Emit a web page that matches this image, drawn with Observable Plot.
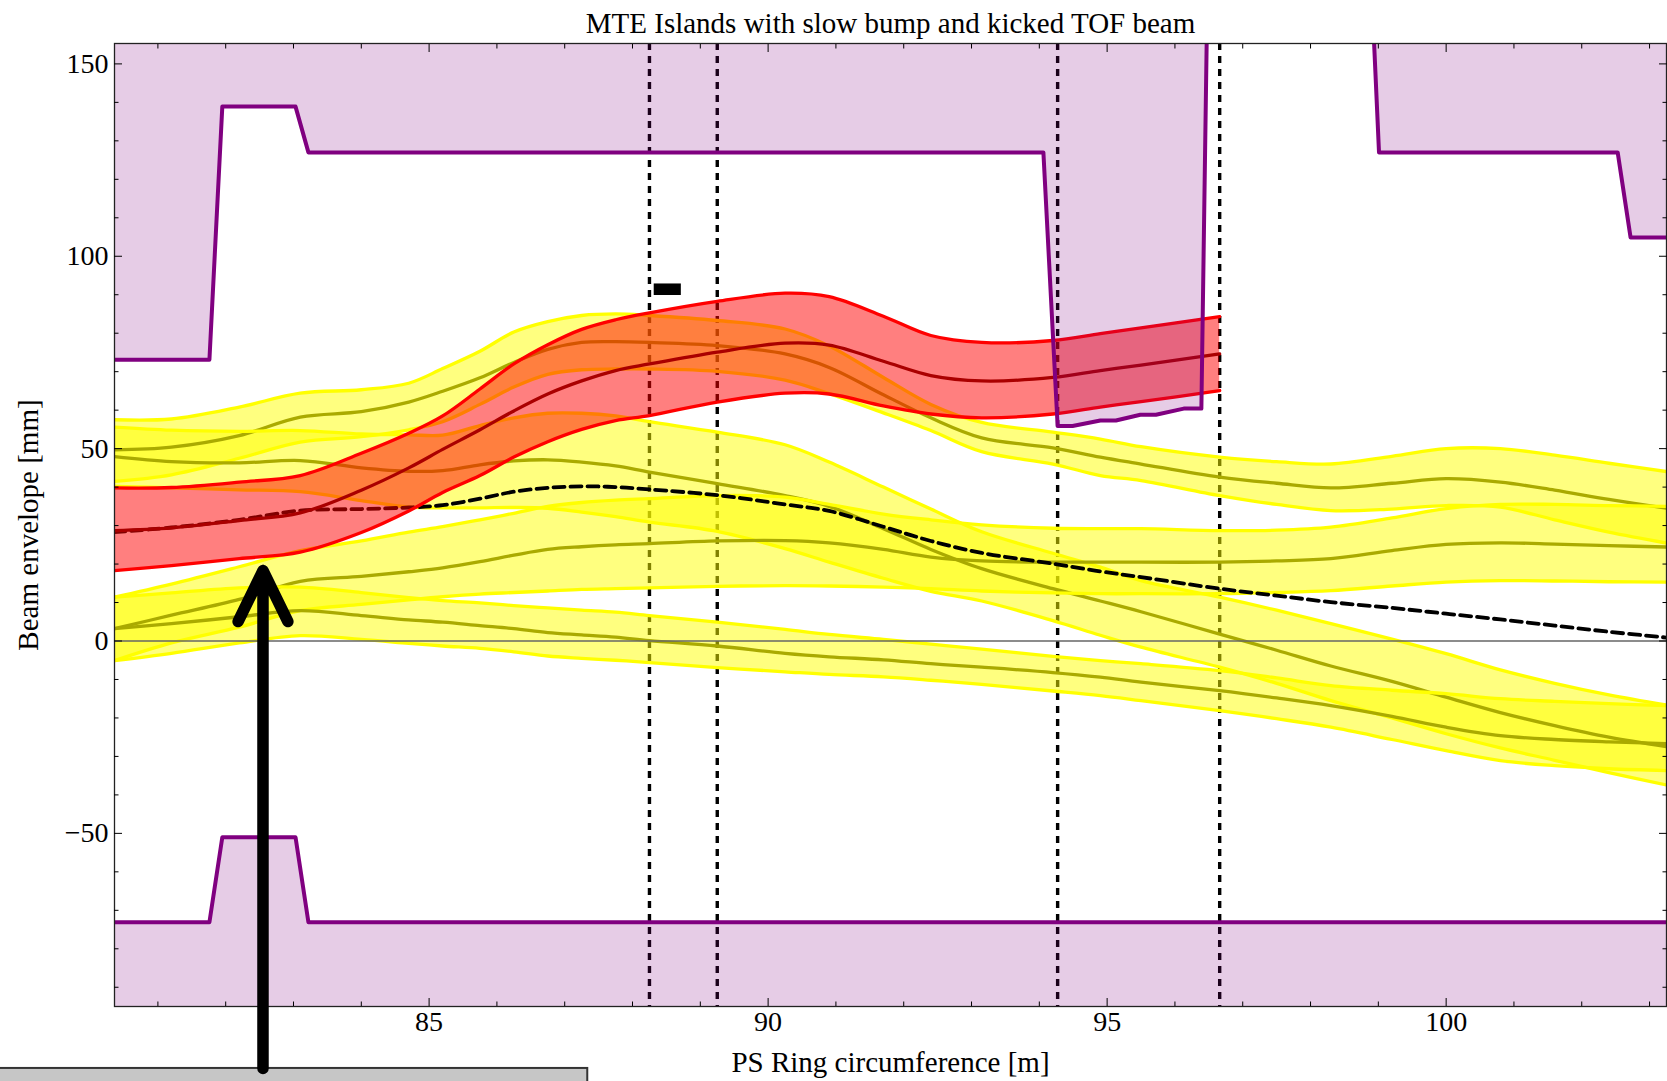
<!DOCTYPE html>
<html><head><meta charset="utf-8">
<script src="https://cdn.jsdelivr.net/npm/d3@7"></script>
<script src="https://cdn.jsdelivr.net/npm/@observablehq/plot@0.6"></script>
<style>
html,body{margin:0;padding:0;background:#fff;}
#chart svg{display:block;}
</style>
</head><body><div id="chart"></div>
<script>
// ---------- data ----------
const titleText = "MTE Islands with slow bump and kicked TOF beam";
const xLabelText = "PS Ring circumference [m]";
const yLabelText = "Beam envelope [mm]";

const xMajor = [85, 90, 95, 100];
const xMinor = [81, 82, 83, 84, 86, 87, 88, 89, 91, 92, 93, 94, 96, 97, 98, 99, 101, 102, 103];
const yMajor = [-50, 0, 50, 100, 150];
const yMinor = [-90, -80, -70, -60, -40, -30, -20, -10, 10, 20, 30, 40, 60, 70, 80, 90, 110, 120, 130, 140];

// s positions [m]
const xGrid = [80.36, 81.2, 82.2, 83.1, 84.0, 84.7, 85.2, 85.75, 86.25, 86.75, 87.25, 87.75, 88.25, 89.25, 90.25, 90.9, 91.7, 92.4, 93.15, 94.2, 94.9, 95.5, 96.66, 97.5, 98.3, 99.2, 100.0, 100.8, 101.6, 102.4, 103.3];

// island A (upper)
const aHi  = [57.5, 57.7, 60.8, 64.4, 65.3, 67.0, 70.8, 75.3, 80.3, 83.0, 84.6, 85.0, 84.6, 83.3, 81.1, 76.7, 68.5, 61.5, 56.8, 54.3, 52.5, 50.5, 47.8, 46.6, 46.0, 48.0, 50.0, 50.0, 48.3, 46.2, 43.9];
const aMid = [49.7, 50.4, 53.4, 58.2, 59.6, 62.1, 64.9, 68.4, 72.4, 75.8, 77.6, 77.8, 77.6, 76.8, 74.6, 71.1, 64.0, 58.0, 52.8, 50.2, 47.8, 46.0, 42.6, 41.0, 39.8, 41.0, 42.2, 41.3, 39.2, 36.8, 34.4];
const aLo  = [41.5, 43.2, 47.5, 51.7, 53.1, 54.9, 57.0, 61.5, 66.0, 69.3, 70.5, 70.7, 70.7, 70.1, 67.8, 64.3, 59.3, 54.7, 49.2, 46.0, 43.0, 41.7, 37.8, 35.5, 33.9, 34.3, 35.2, 34.8, 31.5, 28.3, 25.3];
// island B
const bHi  = [55.6, 54.8, 54.5, 54.7, 53.8, 53.6, 53.5, 56.0, 58.0, 59.2, 59.2, 58.5, 57.0, 54.3, 51.0, 46.5, 40.0, 34.3, 28.4, 22.8, 19.2, 15.7, 11.4, 8.0, 4.5, 0.5, -3.3, -7.5, -11.0, -14.0, -16.8];
const bMid = [47.9, 46.6, 46.3, 46.9, 45.0, 44.1, 44.3, 45.8, 46.8, 47.1, 46.5, 45.5, 43.9, 40.9, 37.8, 35.0, 29.2, 23.8, 18.8, 13.6, 10.4, 7.6, 1.8, -2.4, -6.5, -10.5, -14.6, -18.6, -22.0, -25.0, -27.6];
const bLo  = [40.2, 39.8, 39.3, 38.8, 36.5, 34.8, 34.6, 34.6, 34.7, 34.5, 33.5, 32.3, 30.9, 28.5, 24.0, 20.5, 16.3, 12.9, 10.4, 5.3, 1.5, -1.6, -6.8, -11.0, -15.5, -20.0, -24.1, -27.8, -31.0, -34.2, -37.6];
// island C
const cHi  = [11.4, 14.8, 19.3, 23.5, 26.0, 28.3, 29.7, 31.5, 33.2, 35.0, 36.0, 36.6, 37.0, 37.8, 37.4, 35.5, 33.0, 31.5, 30.2, 29.3, 29.2, 29.2, 28.7, 28.8, 29.6, 32.0, 34.4, 35.5, 35.5, 35.2, 35.0];
const cMid = [3.2, 6.7, 10.8, 15.5, 16.8, 18.0, 19.0, 20.6, 22.3, 23.8, 24.5, 25.0, 25.3, 26.0, 26.1, 25.5, 23.8, 21.8, 20.8, 20.5, 20.5, 20.5, 20.5, 20.8, 21.4, 23.5, 25.1, 25.5, 25.2, 24.8, 24.4];
const cLo  = [-5.1, -0.5, 3.6, 7.9, 9.5, 10.7, 11.5, 12.2, 12.6, 13.0, 13.4, 13.6, 13.8, 14.2, 14.4, 14.3, 14.0, 13.6, 13.0, 12.5, 12.3, 12.3, 12.3, 12.6, 13.1, 14.3, 15.3, 15.7, 15.6, 15.4, 15.3];
// island D (lowest)
const dHi  = [11.4, 12.5, 13.8, 14.0, 12.6, 11.3, 10.5, 9.9, 9.2, 8.6, 8.0, 7.5, 6.6, 4.9, 3.0, 1.7, 0.4, -0.8, -2.1, -4.0, -5.1, -5.9, -7.7, -9.6, -11.6, -12.8, -13.7, -15.0, -15.7, -16.3, -16.8];
const dMid = [3.2, 4.5, 6.3, 7.9, 6.6, 5.5, 4.9, 4.0, 3.2, 2.2, 1.6, 1.0, 0.1, -1.3, -3.2, -4.1, -4.9, -5.9, -6.8, -8.2, -9.4, -10.7, -12.9, -14.8, -16.8, -19.6, -22.4, -24.6, -25.6, -26.2, -26.7];
const dLo  = [-5.1, -3.2, -0.5, 1.4, 0.4, -0.6, -1.3, -1.9, -2.8, -3.9, -4.5, -5.0, -5.6, -6.9, -8.0, -8.7, -9.3, -10.2, -11.3, -13.0, -14.2, -15.5, -18.1, -20.2, -22.4, -25.6, -28.5, -31.1, -32.4, -33.2, -33.7];

// kicked TOF beam (first 23 grid points)
const redHi  = [39.8, 39.9, 41.3, 43.0, 48.8, 54.0, 58.5, 65.5, 72.0, 77.0, 81.0, 83.5, 85.3, 88.3, 90.4, 89.5, 84.4, 79.4, 77.6, 78.1, 79.9, 81.4, 84.3];
const redMid = [28.7, 29.4, 31.3, 33.3, 39.2, 45.0, 49.8, 54.9, 59.8, 64.2, 67.6, 70.3, 72.0, 75.1, 77.4, 76.9, 72.7, 69.0, 67.6, 68.5, 70.3, 71.7, 74.6];
const redLo  = [18.3, 19.6, 21.4, 23.1, 28.2, 33.8, 38.6, 43.0, 47.8, 51.8, 55.0, 57.3, 58.6, 62.1, 64.4, 64.2, 61.1, 59.0, 58.0, 59.0, 60.8, 62.2, 65.1];

// closed orbit with slow bump (dashed)
const orbit = [28.3, 29.5, 31.5, 33.9, 34.3, 34.7, 35.3, 37.0, 38.8, 39.8, 40.2, 40.0, 39.4, 37.9, 35.5, 33.8, 29.7, 26.0, 22.9, 20.1, 18.1, 16.6, 13.6, 11.8, 10.1, 8.6, 7.1, 5.6, 4.0, 2.4, 0.8];

// vacuum chamber aperture
const apUpX = [80.2, 81.76, 81.95, 83.03, 83.22, 94.06, 94.27, 94.49, 94.9, 95.13, 95.49, 95.72, 96.13, 96.39, 96.48, 98.90, 99.01, 102.53, 102.72, 103.5];
const apUpY = [73.1, 73.1, 138.9, 138.9, 127.0, 127.0, 55.9, 55.9, 57.3, 57.3, 58.8, 58.8, 60.4, 60.4, 170, 170, 127.0, 127.0, 104.9, 104.9];
const apLoX = [80.2, 81.76, 81.95, 83.03, 83.22, 103.5];
const apLoY = [-73.1, -73.1, -51.0, -51.0, -73.1, -73.1];

// septum / kicker markers (vertical dashed)
const markerX = [88.25, 89.25, 94.27, 96.66];
// small black marker
const tagX = [88.32, 88.72];
const tagY = [89.8, 92.8];
// annotation arrow and grey box
const arrowX = 82.55;
const arrowY = [-111.1, 18.3];
const boxX = [78.4, 87.34];
const boxY = [-111.1, -118];

// ---------- build ----------
const band = (lo, mid, hi) => lo.map((_, i) => ({x: xGrid[i], lo: lo[i], mid: mid[i], hi: hi[i]}));
const islands = [band(aLo, aMid, aHi), band(bLo, bMid, bHi), band(cLo, cMid, cHi), band(dLo, dMid, dHi)];
const red = band(redLo, redMid, redHi);
const orbitRows = orbit.map((y, i) => ({x: xGrid[i], y}));
const apUp = apUpX.map((x, i) => ({x, y: apUpY[i]}));
const apLo = apLoX.map((x, i) => ({x, y: apLoY[i]}));

const C = "catmull-rom";
const serif = "'Liberation Serif', 'Times New Roman', 'DejaVu Serif', serif";
const LW = 3.3;
const marks = [];

marks.push(Plot.ruleX(markerX, {stroke: "#000", strokeWidth: 3.4, strokeDasharray: "7,6"}));

for (const b of islands)
  marks.push(Plot.areaY(b, {x: "x", y1: "lo", y2: "hi", fill: "#ffff00", fillOpacity: 0.5, curve: C, clip: true}));
for (const b of islands) {
  marks.push(Plot.line(b, {x: "x", y: "hi", stroke: "#ffff00", strokeWidth: LW, curve: C, clip: true}));
  marks.push(Plot.line(b, {x: "x", y: "lo", stroke: "#ffff00", strokeWidth: LW, curve: C, clip: true}));
  marks.push(Plot.line(b, {x: "x", y: "mid", stroke: "#aaaa00", strokeWidth: LW, curve: C, clip: true}));
}
marks.push(Plot.ruleY([0], {stroke: "#666", strokeWidth: 1.4}));
marks.push(Plot.line(orbitRows, {x: "x", y: "y", stroke: "#000", strokeWidth: 3.8, strokeDasharray: "11,6", curve: C, clip: true}));

marks.push(Plot.areaY(red, {x: "x", y1: "lo", y2: "hi", fill: "#ff0000", fillOpacity: 0.5, curve: C, clip: true}));
marks.push(Plot.line(red, {x: "x", y: "hi", stroke: "#ff0000", strokeWidth: LW, curve: C, clip: true}));
marks.push(Plot.line(red, {x: "x", y: "lo", stroke: "#ff0000", strokeWidth: LW, curve: C, clip: true}));
marks.push(Plot.line(red, {x: "x", y: "mid", stroke: "#aa0000", strokeWidth: LW, curve: C, clip: true}));

marks.push(Plot.areaY(apUp, {x: "x", y1: "y", y2: 260, fill: "#800080", fillOpacity: 0.2, clip: true}));
marks.push(Plot.areaY(apLo, {x: "x", y1: -260, y2: "y", fill: "#800080", fillOpacity: 0.2, clip: true}));
marks.push(Plot.line(apUp, {x: "x", y: "y", stroke: "#800080", strokeWidth: 4, clip: true}));
marks.push(Plot.line(apLo, {x: "x", y: "y", stroke: "#800080", strokeWidth: 4, clip: true}));

marks.push(Plot.rect([{x1: tagX[0], x2: tagX[1], y1: tagY[0], y2: tagY[1]}], {x1: "x1", x2: "x2", y1: "y1", y2: "y2", fill: "#000"}));

marks.push(Plot.frame({stroke: "#222", strokeWidth: 1.3}));
// axes (ticks pointing inward, Mathematica frame style)
marks.push(Plot.axisX(xMajor, {anchor: "bottom", tickSize: -8, tickPadding: 13, label: null}));
marks.push(Plot.axisX(xMinor, {anchor: "bottom", tickSize: -4.5, tickFormat: () => "", label: null}));
marks.push(Plot.axisX(xMajor, {anchor: "top", tickSize: -8, tickFormat: () => "", label: null}));
marks.push(Plot.axisX(xMinor, {anchor: "top", tickSize: -4.5, tickFormat: () => "", label: null}));
marks.push(Plot.axisY(yMajor, {anchor: "left", tickSize: -8, tickPadding: 14, label: null}));
marks.push(Plot.axisY(yMinor, {anchor: "left", tickSize: -4.5, tickFormat: () => "", label: null}));
marks.push(Plot.axisY(yMajor, {anchor: "right", tickSize: -8, tickFormat: () => "", label: null}));
marks.push(Plot.axisY(yMinor, {anchor: "right", tickSize: -4.5, tickFormat: () => "", label: null}));

// annotation
marks.push(Plot.rect([{x1: boxX[0], x2: boxX[1], y1: boxY[0], y2: boxY[1]}], {x1: "x1", x2: "x2", y1: "y1", y2: "y2", fill: "#c6c6c6", stroke: "#333", strokeWidth: 2}));
marks.push(Plot.arrow([{x: arrowX, y1: arrowY[0], y2: arrowY[1]}], {x1: "x", x2: "x", y1: "y1", y2: "y2", stroke: "#000", strokeWidth: 11.5, headLength: 7.4, headAngle: 52, strokeLinecap: "round", strokeLinejoin: "round"}));

marks.push(Plot.text([titleText], {frameAnchor: "top", dy: -20, fontSize: 29, lineAnchor: "middle", fontFamily: serif}));
marks.push(Plot.text([xLabelText], {frameAnchor: "bottom", dy: 56, fontSize: 29, lineAnchor: "middle", fontFamily: serif}));
marks.push(Plot.text([yLabelText], {frameAnchor: "left", dx: -86, rotate: -90, fontSize: 29, textAnchor: "middle", lineAnchor: "middle", fontFamily: serif}));

const chart = Plot.plot({
  width: 1667,
  height: 1081,
  marginLeft: 114,
  marginRight: 1,
  marginTop: 43,
  marginBottom: 75,
  x: {domain: [80.36, 103.25]},
  y: {domain: [-95.0, 155.3]},
  style: {fontFamily: serif, fontSize: "28px", background: "#fff", overflow: "visible"},
  marks
});
document.getElementById("chart").appendChild(chart);
</script></body></html>
